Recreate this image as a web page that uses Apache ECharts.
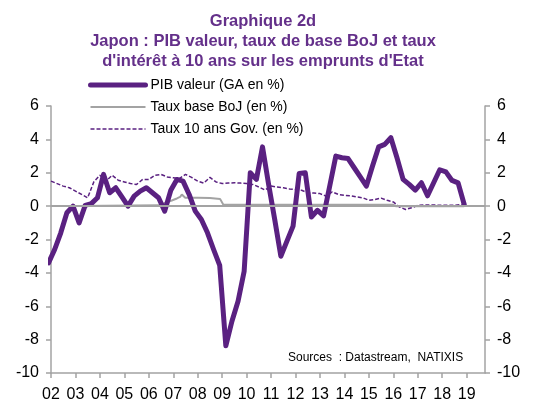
<!DOCTYPE html>
<html>
<head>
<meta charset="utf-8">
<script src="https://cdn.jsdelivr.net/npm/echarts@6/dist/echarts.min.js"></script>
<style>
  html, body { margin: 0; padding: 0; background: #fff; }
  #chart { width: 533px; height: 403px; }
</style>
</head>
<body>
<div id="chart"></div>
<script>
// PIB valeur, glissement annuel (%), trimestriel, premier point fin 2001
const pibStart = 2001.9
const pibValues = [
  -3.4, -2.6, -1.6, -0.4, 0.0, -1.0, 0.05, 0.15, 0.5,
  1.9, 0.8, 1.1, 0.55, 0.0, 0.6, 0.9, 1.1, 0.8, 0.5,
  -0.3, 0.95, 1.6, 1.5, 0.7, -0.3, -0.8, -1.6, -2.6, -3.55,
  -8.37, -6.9, -5.7, -3.9, 2.0, 1.6, 3.55, 1.3, -0.8, -3.0,
  -2.1, -1.2, 1.95, 2.0, -0.65, -0.25, -0.58, 1.2, 3.0, 2.9,
  2.85, 2.3, 1.75, 1.2, 2.4, 3.55, 3.7, 4.1, 2.9, 1.6,
  1.3, 0.96, 1.4, 0.62, 1.4, 2.18, 2.05, 1.54, 1.39, 0.1
]

// Taux 10 ans Gov. (%), trimestriel
const govStart = 2002.0
const govValues = [
  1.5, 1.35, 1.2, 1.1, 0.9, 0.7, 0.5, 1.45,
  1.85, 1.5, 1.85, 1.55, 1.45, 1.35, 1.3, 1.6,
  1.6, 1.85, 1.9, 1.75, 1.7, 1.65, 1.9, 1.72,
  1.5, 1.38, 1.72, 1.45, 1.35, 1.38, 1.4, 1.38,
  1.35, 1.3, 1.15, 0.97, 1.2, 1.15, 1.1, 1.03,
  1.0, 0.95, 0.8, 0.78, 0.75, 0.6, 0.85, 0.7,
  0.65, 0.62, 0.55, 0.5, 0.35, 0.4, 0.48, 0.35,
  0.25, -0.05, -0.2, -0.1, 0.05, 0.07, 0.07, 0.06,
  0.05, 0.05, 0.05, 0.1, 0.08
]

// Taux base BoJ (%)
const bojDates = [2002.0, 2006.45, 2006.67, 2006.94, 2007.15, 2007.28, 2007.35, 2007.49, 2008.0, 2008.5, 2008.92, 2009.05, 2016.0, 2016.1, 2018.9]
const bojValues = [0.0, 0.05, 0.2, 0.34, 0.46, 0.55, 0.7, 0.5, 0.5, 0.48, 0.42, 0.08, 0.08, 0.0, 0.0]

const yTicks = [-10, -8, -6, -4, -2, 0, 2, 4, 6]

const TITLE = 'Graphique 2d\nJapon : PIB valeur, taux de base BoJ et taux\nd\'intérêt à 10 ans sur les emprunts d\'Etat'
const SOURCES = 'Sources  : Datastream,  NATIXIS'

const PURPLE = '#5a2181'
const GREY = '#a3a3a3'
const FONT = 'Liberation Sans, Arial, sans-serif'

const pibData = pibValues.map((v, i) => [pibStart + 0.25 * i, v])
const govData = govValues.map((v, i) => [govStart + 0.25 * i, v])
const bojData = bojValues.map((v, i) => [bojDates[i], v])

const chart = echarts.init(document.getElementById('chart'), null, { renderer: 'canvas' })

const yAxisBase = {
  type: 'value',
  min: yTicks[0],
  max: yTicks[yTicks.length - 1],
  interval: 2,
  axisLine: { show: true, lineStyle: { color: GREY, width: 1.5 } },
  axisTick: { show: true, inside: false, length: 5, lineStyle: { color: GREY, width: 1.5 } },
  axisLabel: { color: '#000', fontSize: 16, fontFamily: FONT, margin: 12 },
  splitLine: { show: false },
}

chart.setOption({
  animation: false,
  textStyle: { fontFamily: FONT },
  legend: {
    orient: 'vertical',
    left: 83,
    top: 73,
    itemWidth: 55,
    itemHeight: 15,
    itemGap: 8,
    itemStyle: { opacity: 0 },
    data: [
      { name: 'PIB valeur (GA en %)', lineStyle: { width: 5 } },
      { name: 'Taux base BoJ (en %)', lineStyle: { width: 2 } },
      { name: 'Taux 10 ans Gov. (en %)', lineStyle: { width: 1.5 } },
    ],
    textStyle: { color: '#000', fontSize: 14, fontFamily: FONT },
  },
  grid: { left: 51, right: 48, top: 106, bottom: 27 },
  xAxis: {
    type: 'value',
    min: 2002,
    max: 2019.75,
    interval: 1,
    axisLine: { onZero: false, lineStyle: { color: GREY, width: 1.5 } },
    axisTick: { length: 5, lineStyle: { color: GREY, width: 1.5 } },
    axisLabel: {
      color: '#000',
      fontSize: 16,
      fontFamily: FONT,
      margin: 14,
      showMaxLabel: false,
      formatter: (v) => (Number.isInteger(v) ? String(v % 100).padStart(2, '0') : ''),
    },
    splitLine: { show: false },
  },
  yAxis: [
    { ...yAxisBase, position: 'left' },
    { ...yAxisBase, position: 'right' },
  ],
  graphic: [
    {
      type: 'text',
      x: 263,
      y: 11,
      style: {
        text: TITLE,
        align: 'center',
        fill: '#64308a',
        fontSize: 16.5,
        fontWeight: 'bold',
        fontFamily: FONT,
        lineHeight: 20,
      },
    },
    {
      type: 'text',
      left: 288,
      top: 352,
      style: { text: SOURCES, fill: '#000', fontSize: 12, fontFamily: FONT },
    },
  ],
  series: [
    {
      name: 'Taux base BoJ (en %)',
      type: 'line',
      data: bojData,
      symbol: 'none',
      color: GREY,
      lineStyle: { color: GREY, width: 2 },
      markLine: {
        silent: true,
        symbol: 'none',
        label: { show: false },
        lineStyle: { color: GREY, width: 2, type: 'solid' },
        data: [{ yAxis: 0 }],
      },
    },
    {
      name: 'Taux 10 ans Gov. (en %)',
      type: 'line',
      data: govData,
      symbol: 'none',
      color: PURPLE,
      lineStyle: { color: PURPLE, width: 1.5, type: [4, 2] },
    },
    {
      name: 'PIB valeur (GA en %)',
      type: 'line',
      data: pibData,
      symbol: 'none',
      color: PURPLE,
      lineStyle: { color: PURPLE, width: 5, join: 'round', cap: 'round' },
    },
  ],
})
</script>
</body>
</html>
